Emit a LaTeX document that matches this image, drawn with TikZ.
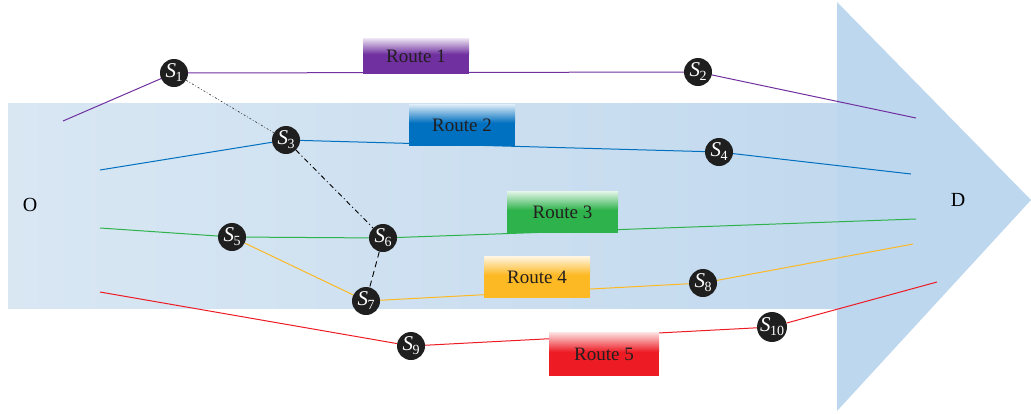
\documentclass[tikz,border=0pt]{standalone}
\usepackage{fontspec}
\setmainfont{Liberation Serif}
\usetikzlibrary{calc}
\definecolor{cpur}{HTML}{7030A0}
\definecolor{cblu}{HTML}{0070C0}
\definecolor{cgrn}{HTML}{2EB34C}
\definecolor{corg}{HTML}{FDB924}
\definecolor{cred}{HTML}{ED1C24}
\definecolor{bodyL}{HTML}{D9E7F3}
\definecolor{bodyR}{HTML}{C2D9EE}
\definecolor{headC}{HTML}{BDD7EE}
\definecolor{txtC}{HTML}{231F20}
\newcommand{\stn}[1]{{\fontsize{21}{21}\selectfont\itshape S}\kern-0.5pt\raisebox{-4pt}{\fontsize{14}{14}\selectfont #1}}
\tikzset{
  snode/.style={circle,fill=black!88,text=white,minimum size=28pt,inner sep=0pt},
  routebox/.style={rectangle,inner sep=0pt,text=txtC,font=\fontsize{19}{22}\selectfont,
    path picture={
      \fill[#1] (path picture bounding box.south west) rectangle (path picture bounding box.north east);
      \shade[top color=#1!12, bottom color=#1] (path picture bounding box.north west) rectangle ($(path picture bounding box.north east)!0.45!(path picture bounding box.south east)$);
    }},
  rline/.style={line width=1pt},
  endtxt/.style={font=\fontsize{20}{22}\selectfont,text=black}
}
\begin{document}
\begin{tikzpicture}[x=1pt,y=-1pt]
\useasboundingbox (0,0) rectangle (1031,413);
% big arrow
\shade[left color=bodyL, right color=bodyR] (8,103) rectangle (837,308);
\fill[headC] (837,2) -- (1031,200) -- (837,411) -- cycle;
% end labels
\node[endtxt] (O) at (30,205) {O};
\node[endtxt] (D) at (958,200) {D};
% station nodes
\node[snode] (S1) at (174,73) {\stn{1}};
\node[snode] (S2) at (698,72) {\stn{2}};
\node[snode] (S3) at (286,140) {\stn{3}};
\node[snode] (S4) at (719,152) {\stn{4}};
\node[snode] (S5) at (232,237) {\stn{5}};
\node[snode] (S6) at (383,238) {\stn{6}};
\node[snode] (S7) at (366,301) {\stn{7}};
\node[snode] (S8) at (703,283) {\stn{8}};
\node[snode] (S9) at (411,346) {\stn{9}};
\node[snode] (S10) at (772,327) {\stn{10}};
% free ends
\coordinate (r1s) at (63,121);
\coordinate (r2s) at (100,170);
\coordinate (r3s) at (100,228);
\coordinate (r5s) at (100,292);
\coordinate (r1e) at (916,118);
\coordinate (r2e) at (911,174);
\coordinate (r3e) at (916,219);
\coordinate (r4e) at (913,244);
\coordinate (r5e) at (937,282);
% routes
\draw[rline,cpur] (r1s) -- (S1) -- (S2) -- (r1e);
\draw[rline,cblu] (r2s) -- (S3) -- (S4) -- (r2e);
\draw[rline,cgrn] (r3s) -- (S5) -- (S6) -- (r3e);
\draw[rline,corg] (S5) -- (S7) -- (S8) -- (r4e);
\draw[rline,cred] (r5s) -- (S9) -- (S10) -- (r5e);
% transfer links
\draw[line width=0.6pt,black!80,dash pattern=on 2pt off 2pt on 0.7pt off 2pt] (S1) -- (S3);
\draw[line width=0.9pt,black,dash pattern=on 5pt off 3pt on 1pt off 3pt] (S3) -- (S6);
\draw[line width=0.9pt,black,dash pattern=on 6pt off 4pt] (S6) -- (S7);
% route labels
\node[routebox=cpur,minimum width=106pt,minimum height=36pt] (R1) at (416,56) {Route 1};
\node[routebox=cblu,minimum width=106pt,minimum height=42pt] (R2) at (462,125) {Route 2};
\node[routebox=cgrn,minimum width=111pt,minimum height=42pt] (R3) at (562.5,212) {Route 3};
\node[routebox=corg,minimum width=106pt,minimum height=42pt] (R4) at (537,277) {Route 4};
\node[routebox=cred,minimum width=110pt,minimum height=44pt] (R5) at (604,354) {Route 5};
\end{tikzpicture}
\end{document}
